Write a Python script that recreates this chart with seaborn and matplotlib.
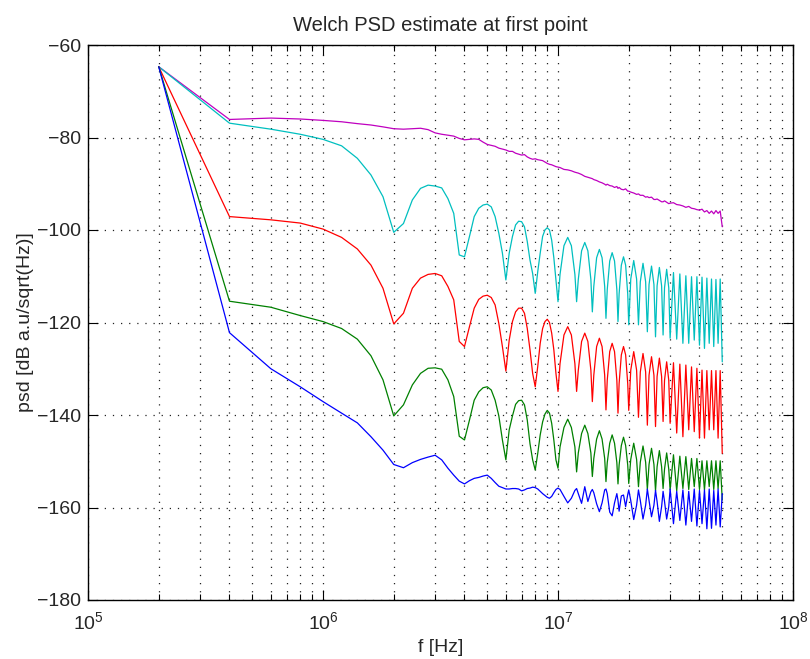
import matplotlib
matplotlib.use("Agg")
import matplotlib.pyplot as plt
import seaborn as sns
import pandas as pd
from matplotlib.ticker import LogLocator, NullFormatter, FixedLocator

# ---- data (frequencies in MHz, PSD in dB) ----
f_lo = [0.2, 0.4, 0.6, 0.8, 1.0, 1.2, 1.4, 1.6, 1.8, 2.0,
        2.2, 2.4, 2.6, 2.8, 3.0, 3.2, 3.4, 3.6, 3.8, 4.0,
        4.2, 4.4, 4.6, 4.8, 5.0, 5.2, 5.4, 5.6, 5.8, 6.0,
        6.2, 6.4, 6.6, 6.8, 7.0, 7.2, 7.4, 7.6, 7.8, 8.0,
        8.2, 8.4, 8.6, 8.8, 9.0, 9.2, 9.4, 9.6, 9.8, 10.0]
f_mid = [10.2, 10.6, 11, 11.4, 11.8, 12,
         12.2, 12.6, 13, 13.4, 13.8, 14,
         14.2, 14.6, 15, 15.4, 15.8, 16,
         16.2, 16.6, 17, 17.4, 17.8, 18,
         18.2, 18.6, 19, 19.4, 19.8, 20,
         20.4, 21, 21.6, 22, 22.4, 23, 23.6, 24, 24.4, 25, 25.6, 26,
         26.4, 27, 27.6, 28, 28.4, 29, 29.6, 30]
f_hi = [31, 32, 33, 34, 35, 36, 37, 38, 39, 40,
        41, 42, 43, 44, 45, 46, 47, 48, 49, 50]
freq_mhz = f_lo + f_mid + f_hi

magenta_db = [-64.7, -76.1, -75.8, -76.0, -76.3, -76.6, -77.0, -77.3, -77.7, -78.1,
              -78.2, -78.1, -78.0, -78.3, -79.0, -79.3, -79.5, -79.7, -80.2, -80.5,
              -80.4, -80.3, -80.4, -81.0, -81.5, -81.7, -81.9, -82.3, -82.5, -82.7,
              -83.0, -83.0, -83.4, -83.6, -83.8, -83.7, -84.2, -84.5, -84.7, -84.6,
              -84.8, -84.9, -85.0, -85.3, -85.6, -85.8, -85.9, -86.1, -86.3, -86.4,
              -86.5, -86.9, -87.0, -87.2, -87.5, -87.6,
              -87.7, -88.0, -88.4, -88.6, -88.8, -88.9,
              -89.1, -89.3, -89.6, -89.8, -90.1, -90.3,
              -90.1, -90.4, -90.5, -90.8, -90.6, -91.0,
              -90.8, -91.2, -91.3, -91.1, -91.6, -91.6,
              -91.8, -92.0, -92.3, -92.2, -92.5, -92.5, -92.9, -92.8, -93.0, -92.9, -93.4, -93.4,
              -93.3, -93.6, -93.9, -93.9, -93.7, -94.0, -94.3, -94.2,
              -94.1, -94.5, -94.6, -94.8, -95.1, -94.9, -95.3, -95.4, -95.6, -95.7,
              -95.5, -96.1, -95.8, -96.4, -95.9, -96.5, -95.8, -96.4, -95.9, -99.3]

cyan_db = [-64.7, -76.9, -78.2, -79.3, -80.4, -81.8, -84.5, -88.1, -92.8, -100.5,
           -98.6, -93.5, -91.0, -90.3, -90.5, -90.9, -93.2, -96.4, -105.4, -105.8,
           -101.4, -97.1, -95.3, -94.6, -94.4, -95.0, -97.1, -100.7, -105.0, -110.8,
           -105.0, -101.4, -98.9, -98.1, -98.2, -99.3, -102.5, -106.5, -109.4, -113.7,
           -109.0, -105.0, -101.4, -100.0, -99.5, -100.0, -102.2, -106.0, -110.8, -115.5,
           -109.6, -103.4, -101.6, -103.4, -109.6, -115.5,
           -110.7, -104.5, -102.7, -104.5, -110.7, -117.7,
           -112.2, -106.0, -104.2, -106.0, -112.2, -119.1,
           -112.9, -106.7, -104.9, -106.7, -112.9, -119.8,
           -113.8, -107.6, -105.8, -107.6, -113.8, -120.5,
           -110.6, -106.6, -110.6, -120.5, -111.2, -107.2, -111.2, -122.0, -111.8, -107.8, -111.8, -123.1,
           -112.1, -108.1, -112.1, -122.7, -112.5, -108.5, -112.5, -123.4,
           -109.2, -123.6, -109.5, -124.5, -109.9, -124.5, -110.1, -123.8, -110.1, -124.9,
           -110.2, -125.6, -110.4, -124.5, -110.6, -125.2, -110.7, -124.5, -110.6, -128.5]

red_db = [-64.7, -97.1, -97.8, -98.5, -99.8, -101.6, -104.1, -107.6, -112.6, -120.3,
          -118.0, -112.6, -110.4, -109.6, -109.4, -109.9, -112.2, -115.1, -124.1, -125.2,
          -120.9, -116.9, -115.0, -114.3, -114.1, -114.6, -116.2, -120.2, -125.2, -130.5,
          -123.8, -119.8, -117.7, -116.9, -116.9, -118.0, -121.3, -125.9, -131.0, -133.9,
          -129.5, -124.5, -121.3, -119.8, -119.3, -120.0, -122.3, -125.9, -131.0, -134.9,
          -128.9, -122.7, -120.9, -122.7, -128.9, -134.9,
          -130.3, -124.1, -122.3, -124.1, -130.3, -137.1,
          -131.4, -125.2, -123.4, -125.2, -131.4, -138.9,
          -132.5, -126.3, -124.5, -126.3, -132.5, -139.6,
          -133.2, -127.0, -125.2, -127.0, -133.2, -139.0,
          -130.3, -126.3, -130.3, -140.5, -130.7, -126.7, -130.7, -142.2, -131.4, -127.4, -131.4, -142.5,
          -131.7, -127.7, -131.7, -141.4, -132.5, -128.5, -132.5, -141.8,
          -128.7, -143.9, -129.0, -144.7, -129.2, -143.2, -129.6, -143.6, -129.9, -145.0,
          -130.3, -145.0, -130.4, -143.2, -130.4, -143.2, -130.4, -145.0, -130.4, -148.3]

green_db = [-64.7, -115.4, -116.7, -118.5, -119.8, -121.3, -123.6, -127.2, -132.4, -140.2,
            -137.8, -133.5, -131.0, -129.9, -129.8, -130.1, -132.4, -136.0, -144.6, -145.4,
            -141.1, -136.8, -135.0, -134.1, -133.9, -134.6, -136.8, -140.2, -145.4, -149.7,
            -143.2, -140.2, -137.7, -136.9, -136.8, -137.8, -141.1, -146.2, -149.7, -151.9,
            -148.3, -144.3, -141.5, -139.8, -139.0, -139.6, -141.8, -145.4, -149.7, -151.5,
            -146.9, -142.7, -140.9, -142.7, -146.9, -152.3,
            -148.2, -144.0, -142.2, -144.0, -148.2, -153.3,
            -149.4, -145.2, -143.4, -145.2, -149.4, -154.4,
            -150.3, -146.1, -144.3, -146.1, -150.3, -154.9,
            -150.8, -146.6, -144.8, -146.6, -150.8, -154.8,
            -149.6, -146.1, -149.6, -155.5, -150.2, -146.7, -150.2, -156.1, -150.7, -147.2, -150.7, -156.4,
            -151.2, -147.7, -151.2, -155.9, -151.7, -148.2, -151.7, -156.2,
            -148.6, -156.4, -148.9, -155.9, -149.0, -156.1, -149.4, -155.5, -149.4, -156.1,
            -149.9, -156.2, -149.9, -155.5, -149.9, -156.1, -149.9, -155.9, -149.9, -158.4]

blue_db = [-64.7, -122.2, -130.0, -133.9, -137.1, -139.6, -141.7, -144.7, -147.6, -150.7,
           -151.4, -150.3, -149.6, -149.1, -148.7, -149.7, -151.5, -153.0, -154.3, -154.9,
           -154.2, -153.7, -153.5, -153.2, -153.0, -153.7, -154.6, -155.4, -155.7, -156.0,
           -156.0, -155.9, -155.9, -156.0, -156.4, -156.2, -155.9, -155.8, -155.6, -155.7,
           -156.0, -156.5, -157.0, -157.4, -157.8, -158.0, -157.6, -156.8, -156.1, -155.8,
           -156.1, -157.6, -159.0, -158.0, -156.3, -155.9,
           -157.0, -159.1, -155.5, -158.7, -156.6, -156.1,
           -156.8, -159.2, -160.9, -159.0, -156.2, -156.0,
           -157.0, -161.0, -161.8, -159.0, -157.0, -158.5,
           -160.8, -157.5, -157.3, -159.8, -157.2, -156.2,
           -158.5, -162.6, -159.5, -156.2, -158.5, -162.5, -159.5, -156.0, -158.5, -162.0, -159.5, -156.3,
           -158.7, -163.0, -159.8, -156.5, -158.7, -162.5, -159.8, -156.0,
           -163.5, -156.5, -162.8, -156.2, -163.8, -156.5, -163.0, -156.0, -164.0, -156.3,
           -163.5, -156.2, -164.6, -156.0, -164.5, -156.3, -163.8, -156.0, -164.2, -157.0]

series = [("magenta", magenta_db, (0.75, 0.0, 0.75)),
          ("cyan", cyan_db, (0.0, 0.75, 0.75)),
          ("red", red_db, (1.0, 0.0, 0.0)),
          ("green", green_db, (0.0, 0.5, 0.0)),
          ("blue", blue_db, (0.0, 0.0, 1.0))]

sns.set_style("ticks")
plt.rcParams['font.family'] = ['Liberation Sans', 'DejaVu Sans']
plt.rcParams['mathtext.fontset'] = 'custom'
plt.rcParams['mathtext.rm'] = 'Liberation Sans'
plt.rcParams['mathtext.it'] = 'Liberation Sans'

fig = plt.figure(figsize=(8.10, 6.59), dpi=100)
ax = fig.add_axes([88/810, 1-600/659, (793-88)/810, (600-45)/659])

for name, vals, col in series:
    n = min(len(vals), len(freq_mhz))
    df = pd.DataFrame({"f": [v * 1e6 for v in freq_mhz[:n]], "psd": vals[:n]})
    sns.lineplot(data=df, x="f", y="psd", ax=ax, color=col, linewidth=0.9,
                 estimator=None, sort=False, legend=False)

ax.set_xscale("log")
ax.set_xlim(1e5, 1e8)
ax.set_ylim(-180, -60)
ax.yaxis.set_major_locator(FixedLocator([-180, -160, -140, -120, -100, -80, -60]))
ax.set_yticklabels(["\u2212180", "\u2212160", "\u2212140", "\u2212120", "\u2212100", "\u221280", "\u221260"])
ax.xaxis.set_major_locator(LogLocator(base=10, numticks=10))
ax.xaxis.set_minor_locator(LogLocator(base=10, subs=range(2, 10), numticks=20))
ax.xaxis.set_minor_formatter(NullFormatter())

grid_kw = dict(color="#222222", linestyle=(0, (1, 5.5)), linewidth=0.9)
ax.grid(True, which="major", axis="both", **grid_kw)
ax.grid(True, which="minor", axis="x", **grid_kw)

ax.tick_params(which="both", direction="in", top=True, right=True, labelsize=14, width=0.8, color="black")
ax.tick_params(which="major", length=7)
ax.tick_params(which="minor", length=4)
ax.tick_params(axis="x", which="major", pad=8)
ax.tick_params(axis="y", which="major", pad=5)
for s in ax.spines.values():
    s.set_visible(True)
    s.set_color("black")
    s.set_linewidth(1.0)

ax.set_xlabel("f [Hz]", fontsize=14, labelpad=4)
ax.set_ylabel("psd [dB a.u/sqrt(Hz)]", fontsize=14, labelpad=2)
ax.set_title("Welch PSD estimate at first point", fontsize=14.5, pad=10)

fig.savefig("out.png", dpi=100)
